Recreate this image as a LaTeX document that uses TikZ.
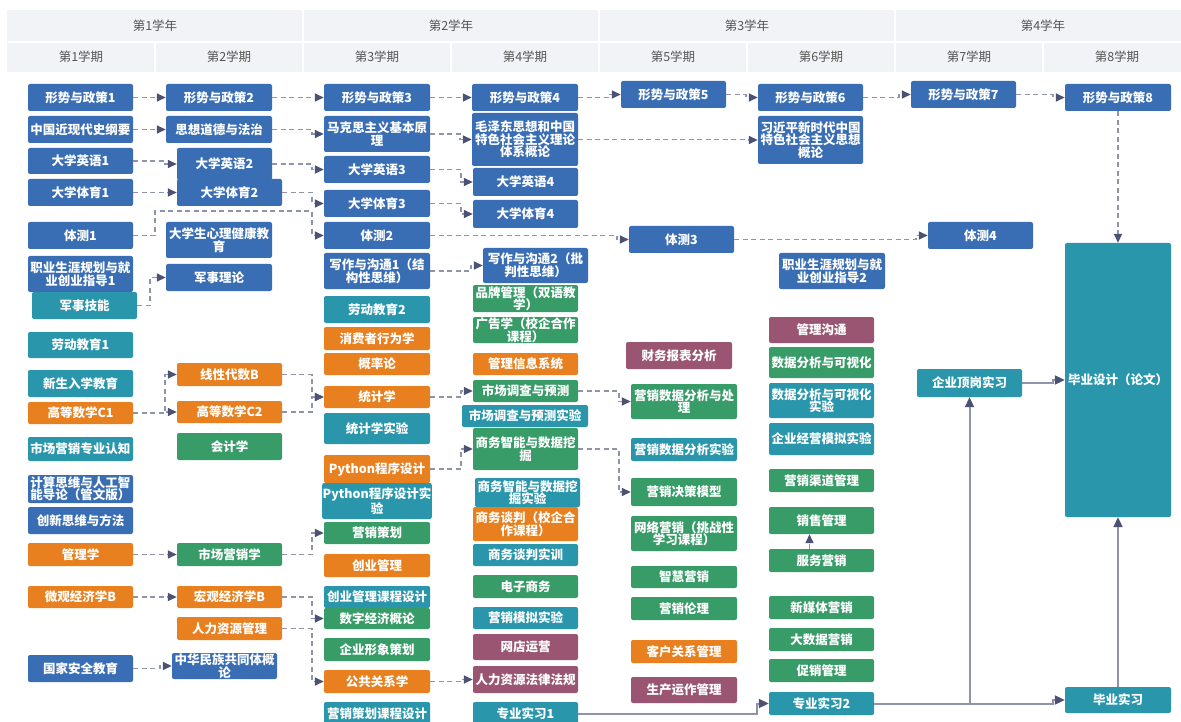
\documentclass[tikz,border=0pt]{standalone}
\usepackage{fontspec}
\setmainfont{Noto Sans CJK SC}
\usetikzlibrary{arrows.meta}
\definecolor{cb}{HTML}{3A6EB4}
\definecolor{ct}{HTML}{2A96AC}
\definecolor{co}{HTML}{E8801F}
\definecolor{cg}{HTML}{389C68}
\definecolor{cm}{HTML}{9A5572}
\definecolor{lc}{HTML}{8F94A8}
\definecolor{ac}{HTML}{4B5273}
\definecolor{hdr}{HTML}{F1F3F6}
\definecolor{htc}{HTML}{555555}
\newcommand\mynd[7]{\node[box,fill=#2,minimum width={#5pt-#3pt},minimum height={#6pt-#4pt}] (#1) at ({(#3+#5)/2},{(#4+#6)/2}) {#7};}
\newcommand\hconn[3][dc]{\draw[#1] (#2.east) -- ([xshift=-12pt]#3.west |- #2.east) |- (#3.west);}
\begin{document}
\begin{tikzpicture}[x=1pt,y=-1pt,
 box/.style={rectangle,rounded corners=2pt,inner xsep=0.5pt,inner ysep=0.5pt,align=center,text=white,font=\bfseries\fontsize{12.5}{12.5}\selectfont},
 dc/.style={draw=lc,line width=1.5pt,dash pattern=on 5pt off 3.5pt,-{Triangle[length=9pt,width=8pt,color=ac]}},
 sc/.style={draw=lc,line width=2pt,-{Triangle[length=10pt,width=9pt,color=ac]}},
 hdtxt/.style={text=htc,font=\fontsize{12.5}{12.5}\selectfont}]
\useasboundingbox (0,0) rectangle (1181,722);
\fill[white] (0,0) rectangle (1181,722);
% header
\fill[hdr] (7,10) rectangle (1191,72);
\draw[white,line width=1.2pt] (7,42) -- (1191,42);
\foreach \x in {303,599,895} \draw[white,line width=1.2pt] (\x,10) -- (\x,72);
\foreach \x in {155,451,747,1043} \draw[white,line width=1.2pt] (\x,42) -- (\x,72);
\node[hdtxt] (y1) at (155,26) {第1学年};
\node[hdtxt] (y2) at (451,26) {第2学年};
\node[hdtxt] (y3) at (747,26) {第3学年};
\node[hdtxt] (y4) at (1043,26) {第4学年};
\node[hdtxt] (s1) at (81,57) {第1学期};
\node[hdtxt] (s2) at (229,57) {第2学期};
\node[hdtxt] (s3) at (377,57) {第3学期};
\node[hdtxt] (s4) at (525,57) {第4学期};
\node[hdtxt] (s5) at (673,57) {第5学期};
\node[hdtxt] (s6) at (821,57) {第6学期};
\node[hdtxt] (s7) at (969,57) {第7学期};
\node[hdtxt] (s8) at (1117,57) {第8学期};
% column 1
\mynd{n1a}{cb}{28}{84}{133}{111}{形势与政策1}
\mynd{n1b}{cb}{28}{116}{133}{143}{中国近现代史纲要}
\mynd{n1c}{cb}{28}{148}{133}{174}{大学英语1}
\mynd{n1d}{cb}{28}{179}{133}{206}{大学体育1}
\mynd{n1e}{cb}{28}{222}{133}{249}{体测1}
\mynd{n1f}{cb}{28}{256}{133}{292}{职业生涯规划与就\\业创业指导1}
\mynd{n1g}{ct}{32}{292}{137}{319}{军事技能}
\mynd{n1h}{ct}{28}{332}{133}{358}{劳动教育1}
\mynd{n1i}{ct}{28}{370}{133}{397}{新生入学教育}
\mynd{n1j}{co}{28}{402}{133}{424}{高等数学C1}
\mynd{n1k}{ct}{28}{437}{133}{461}{市场营销专业认知}
\mynd{n1l}{cb}{28}{475}{133}{503}{计算思维与人工智\\能导论（管文版）}
\mynd{n1m}{cb}{28}{507}{133}{534}{创新思维与方法}
\mynd{n1n}{co}{28}{543}{133}{566}{管理学}
\mynd{n1o}{co}{28}{586}{133}{608}{微观经济学B}
\mynd{n1p}{cb}{28}{655}{133}{682}{国家安全教育}
% column 2
\mynd{n2a}{cb}{166}{84}{272}{111}{形势与政策2}
\mynd{n2b}{cb}{166}{116}{272}{143}{思想道德与法治}
\mynd{n2c}{cb}{177}{148}{272}{180}{大学英语2}
\mynd{n2d}{cb}{177}{179}{282}{206}{大学体育2}
\mynd{n2e}{cb}{166}{222}{272}{258}{大学生心理健康教\\育}
\mynd{n2f}{cb}{166}{264}{272}{291}{军事理论}
\mynd{n2g}{co}{177}{363}{282}{386}{线性代数B}
\mynd{n2h}{co}{177}{401}{282}{423}{高等数学C2}
\mynd{n2i}{cg}{177}{433}{282}{460}{会计学}
\mynd{n2j}{cg}{177}{543}{282}{566}{市场营销学}
\mynd{n2k}{co}{177}{586}{282}{608}{宏观经济学B}
\mynd{n2l}{co}{177}{617}{282}{640}{人力资源管理}
\mynd{n2m}{cb}{172}{653}{277}{679}{中华民族共同体概\\论}
% column 3
\mynd{n3a}{cb}{324}{84}{430}{111}{形势与政策3}
\mynd{n3b}{cb}{324}{116}{430}{152}{马克思主义基本原\\理}
\mynd{n3c}{cb}{324}{156}{430}{183}{大学英语3}
\mynd{n3d}{cb}{324}{190}{430}{217}{大学体育3}
\mynd{n3e}{cb}{324}{222}{430}{249}{体测2}
\mynd{n3f}{cb}{324}{253}{430}{289}{写作与沟通1（结\\构性思维）}
\mynd{n3g}{ct}{324}{296}{430}{323}{劳动教育2}
\mynd{n3h}{co}{324}{327}{430}{350}{消费者行为学}
\mynd{n3i}{co}{324}{353}{430}{375}{概率论}
\mynd{n3j}{co}{324}{386}{430}{408}{统计学}
\mynd{n3k}{ct}{324}{413}{430}{444}{统计学实验}
\mynd{n3l}{co}{324}{455}{430}{483}{Python程序设计}
\mynd{n3m}{ct}{324}{483}{430}{519}{Python程序设计实\\验}
\mynd{n3n}{cg}{324}{522}{430}{544}{营销策划}
\mynd{n3o}{co}{324}{554}{430}{577}{创业管理}
\mynd{n3p}{ct}{324}{586}{430}{608}{创业管理课程设计}
\mynd{n3q}{cg}{324}{608}{430}{629}{数字经济概论}
\mynd{n3r}{cg}{324}{638}{430}{661}{企业形象策划}
\mynd{n3s}{co}{324}{670}{430}{693}{公共关系学}
\mynd{n3t}{ct}{324}{702}{430}{725}{营销策划课程设计}
% column 4
\mynd{n4a}{cb}{472}{84}{578}{111}{形势与政策4}
\mynd{n4b}{cb}{472}{113}{578}{166}{毛泽东思想和中国\\特色社会主义理论\\体系概论}
\mynd{n4c}{cb}{473}{168}{578}{196}{大学英语4}
\mynd{n4d}{cb}{473}{200}{578}{228}{大学体育4}
\mynd{n4e}{cb}{483}{248}{588}{283}{写作与沟通2（批\\判性思维）}
\mynd{n4f}{cg}{473}{285}{578}{312}{品牌管理（双语教\\学）}
\mynd{n4g}{cg}{473}{317}{578}{343}{广告学（校企合作\\课程）}
\mynd{n4h}{co}{473}{353}{578}{375}{管理信息系统}
\mynd{n4i}{cg}{473}{380}{578}{402}{市场调查与预测}
\mynd{n4j}{ct}{462}{405}{588}{427}{市场调查与预测实验}
\mynd{n4k}{cg}{473}{428}{578}{470}{商务智能与数据挖\\掘}
\mynd{n4l}{ct}{475}{478}{580}{507}{商务智能与数据挖\\掘实验}
\mynd{n4m}{co}{473}{507}{578}{541}{商务谈判（校企合\\作课程）}
\mynd{n4n}{ct}{473}{544}{578}{566}{商务谈判实训}
\mynd{n4o}{cg}{473}{575}{578}{598}{电子商务}
\mynd{n4p}{ct}{473}{607}{578}{629}{营销模拟实验}
\mynd{n4q}{cm}{473}{634}{578}{660}{网店运营}
\mynd{n4r}{cm}{473}{666}{578}{693}{人力资源法律法规}
\mynd{n4s}{ct}{473}{702}{578}{725}{专业实习1}
% column 5
\mynd{n5a}{cb}{621}{81}{726}{108}{形势与政策5}
\mynd{n5b}{cb}{629}{226}{734}{253}{体测3}
\mynd{n5c}{cm}{626}{342}{732}{369}{财务报表分析}
\mynd{n5d}{cg}{631}{384}{737}{419}{营销数据分析与处\\理}
\mynd{n5e}{ct}{631}{438}{737}{461}{营销数据分析实验}
\mynd{n5f}{cg}{631}{478}{737}{506}{营销决策模型}
\mynd{n5g}{cg}{631}{516}{737}{551}{网络营销（挑战性\\学习课程）}
\mynd{n5h}{cg}{631}{566}{737}{588}{智慧营销}
\mynd{n5i}{cg}{631}{597}{737}{620}{营销伦理}
\mynd{n5j}{co}{631}{640}{737}{663}{客户关系管理}
\mynd{n5k}{cm}{631}{677}{737}{703}{生产运作管理}
% column 6
\mynd{n6a}{cb}{758}{84}{863}{111}{形势与政策6}
\mynd{n6b}{cb}{758}{116}{863}{164}{习近平新时代中国\\特色社会主义思想\\概论}
\mynd{n6c}{cb}{779}{253}{885}{289}{职业生涯规划与就\\业创业指导2}
\mynd{n6d}{cm}{769}{317}{874}{343}{管理沟通}
\mynd{n6e}{cg}{769}{347}{874}{378}{数据分析与可视化}
\mynd{n6f}{ct}{769}{383}{874}{418}{数据分析与可视化\\实验}
\mynd{n6g}{ct}{769}{423}{874}{455}{企业经营模拟实验}
\mynd{n6h}{cg}{769}{469}{874}{492}{营销渠道管理}
\mynd{n6i}{cg}{769}{507}{874}{534}{销售管理}
\mynd{n6j}{cg}{769}{549}{874}{572}{服务营销}
\mynd{n6k}{cg}{769}{596}{874}{619}{新媒体营销}
\mynd{n6l}{cg}{769}{628}{874}{651}{大数据营销}
\mynd{n6m}{cg}{769}{659}{874}{682}{促销管理}
\mynd{n6n}{ct}{769}{692}{874}{715}{专业实习2}
% column 7
\mynd{n7a}{cb}{911}{81}{1016}{108}{形势与政策7}
\mynd{n7b}{cb}{928}{222}{1033}{249}{体测4}
\mynd{n7c}{ct}{917}{369}{1022}{397}{企业顶岗实习}
% column 8
\mynd{n8a}{cb}{1065}{84}{1171}{111}{形势与政策8}
\mynd{n8b}{ct}{1065}{243}{1171}{517}{毕业设计（论文）}
\mynd{n8c}{ct}{1065}{687}{1171}{713}{毕业实习}
% dashed connectors
\hconn{n1a}{n2a}\hconn{n2a}{n3a}\hconn{n3a}{n4a}\hconn{n4a}{n5a}
\hconn{n5a}{n6a}\hconn{n6a}{n7a}\hconn{n7a}{n8a}
\hconn{n1b}{n2b}\hconn{n2b}{n3b}\hconn{n3b}{n4b}\hconn{n4b}{n6b}
\hconn{n1c}{n2c}\hconn{n2c}{n3c}\hconn{n3c}{n4c}
\hconn{n1d}{n2d}\hconn{n2d}{n3d}\hconn{n3d}{n4d}
\hconn{n3e}{n5b}\hconn{n5b}{n7b}
\hconn{n3f}{n4e}
\hconn{n1j}{n2h}\hconn{n1j}{n2g}
\hconn{n2g}{n3j}\hconn{n2h}{n3j}
\hconn{n3j}{n4i}\hconn{n4i}{n5d}
\hconn{n3l}{n4k}\hconn{n4k}{n5f}
\hconn{n1n}{n2j}\hconn{n2j}{n3n}
\hconn{n1o}{n2k}\hconn{n2k}{n3q}\hconn{n2l}{n3s}
\hconn{n3s}{n4r}
\hconn{n1p}{n2m}
\draw[dc] (n1e.east) -- (155,235.5) -- (155,211) -- (312,211) |- (n3e.west);
\draw[dc] (n1g.east) -- (150,305.5) |- (n2f.west);
\draw[dc] (n8a.south) -- (n8b.north);
\draw[dc] ([xshift=-12pt]n6j.north) -- ([xshift=-12pt]n6i.south);
% solid connectors
\hconn[sc]{n4s}{n6n}
\hconn[sc]{n6n}{n8c}
\draw[sc] (n6n.east) -| (n7c.south);
\hconn[sc]{n7c}{n8b}
\draw[sc] (n8c.north) -- (n8b.south);
\end{tikzpicture}
\end{document}
